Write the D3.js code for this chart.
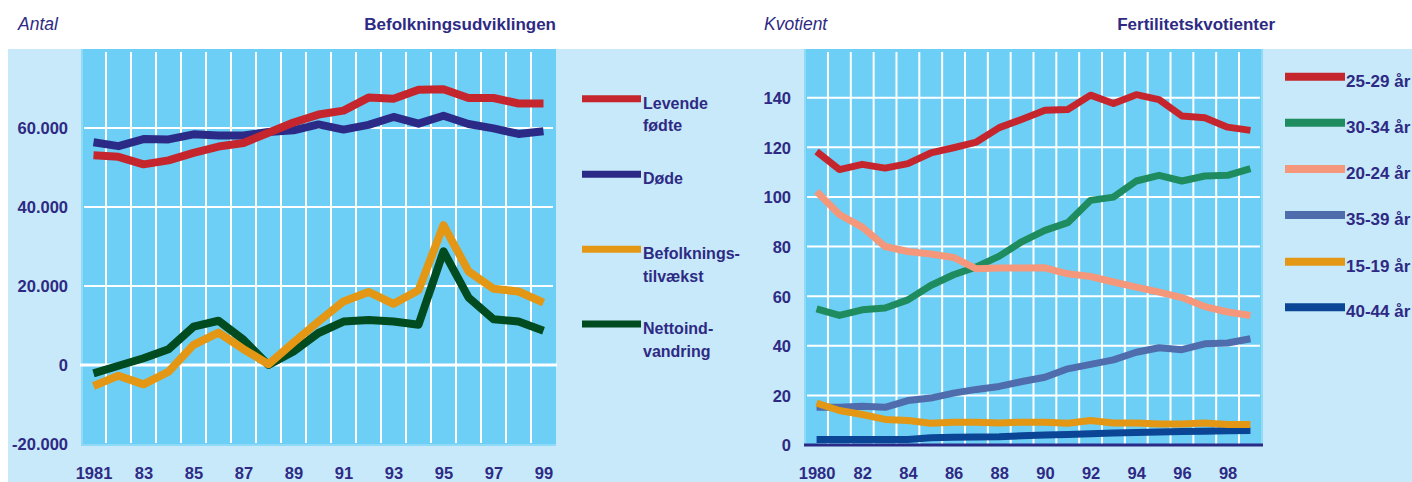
<!DOCTYPE html>
<html>
<head>
<meta charset="utf-8">
<script src="https://cdn.jsdelivr.net/npm/d3@7"></script>
<style>
  html, body { margin: 0; padding: 0; background: #ffffff; }
  svg { display: block; }
  text { font-family: "Liberation Sans", Arial, sans-serif; fill: #2e2a84; }
</style>
</head>
<body>
<svg id="chart" width="1412" height="482"></svg>
<script>
// ---------- DATA ----------
const yearsLeft = [1981,1982,1983,1984,1985,1986,1987,1988,1989,1990,1991,1992,1993,1994,1995,1996,1997,1998,1999];
const levendeFodte = [53100,52700,50800,51800,53700,55300,56200,58800,61400,63400,64400,67700,67400,69700,69800,67600,67600,66200,66200];
const dode = [56400,55400,57200,57100,58400,58100,58100,59000,59400,60900,59600,60800,62800,61100,63100,61000,59900,58500,59200];
const befolkningstilvaekst = [-5300,-2700,-4900,-1700,5100,8200,4000,200,5700,11000,16100,18500,15500,18900,35400,23700,19300,18600,15800];
const nettoindvandring = [-2100,-200,1700,4000,9700,11200,6400,0,3400,8100,11000,11400,11000,10200,28800,17100,11600,11000,8700];
const leftYTicks = [-20000, 0, 20000, 40000, 60000];
const leftYTickLabels = ["-20.000", "0", "20.000", "40.000", "60.000"];
const leftXTicks = [1981,1983,1985,1987,1989,1991,1993,1995,1997,1999];
const leftXTickLabels = ["1981","83","85","87","89","91","93","95","97","99"];

const yearsRight = [1980,1981,1982,1983,1984,1985,1986,1987,1988,1989,1990,1991,1992,1993,1994,1995,1996,1997,1998,1999];
const age2529 = [118.3,111.0,113.1,111.6,113.4,117.7,119.8,122.1,127.9,131.3,134.9,135.2,141.0,137.6,141.2,139.2,132.6,131.9,128.1,126.8];
const age3034 = [54.9,52.2,54.5,55.2,58.5,64.3,68.6,71.8,76.1,82.0,86.5,89.6,98.6,99.9,106.4,108.7,106.4,108.4,108.7,111.4];
const age2024 = [102.2,92.9,87.8,80.0,78.0,77.0,75.6,71.0,71.3,71.3,71.4,69.0,67.9,65.7,63.6,61.6,59.4,55.8,53.6,52.2];
const age3539 = [15.2,15.2,15.6,15.2,17.9,18.9,20.9,22.4,23.6,25.6,27.3,30.7,32.5,34.3,37.4,39.2,38.4,40.8,41.1,42.8];
const age1519 = [16.9,13.9,12.3,10.3,9.9,8.8,9.2,9.2,8.9,9.2,9.2,8.8,9.9,8.9,8.9,8.5,8.5,8.9,8.3,8.3];
const age4044 = [2.2,2.2,2.2,2.2,2.2,2.9,3.1,3.2,3.3,3.7,4.0,4.2,4.5,4.8,5.0,5.2,5.4,5.5,5.7,5.8];
const rightYTicks = [0,20,40,60,80,100,120,140];
const rightXTicks = [1980,1982,1984,1986,1988,1990,1992,1994,1996,1998];
const rightXTickLabels = ["1980","82","84","86","88","90","92","94","96","98"];

const leftSeries = [
  { name: ["Levende", "fødte"], values: levendeFodte, color: "#c5262e" },
  { name: ["Døde"], values: dode, color: "#2b2a86" },
  { name: ["Befolknings-", "tilvækst"], values: befolkningstilvaekst, color: "#e39714" },
  { name: ["Nettoind-", "vandring"], values: nettoindvandring, color: "#004b1f" }
];
const leftDrawOrder = [1, 0, 3, 2];
const rightSeries = [
  { name: "25-29 år", values: age2529, color: "#c5262e" },
  { name: "30-34 år", values: age3034, color: "#1f8c5f" },
  { name: "20-24 år", values: age2024, color: "#f5977a" },
  { name: "35-39 år", values: age3539, color: "#4f6cac" },
  { name: "15-19 år", values: age1519, color: "#e39714" },
  { name: "40-44 år", values: age4044, color: "#0b4696" }
];
const rightDrawOrder = [5, 3, 4, 1, 2, 0];

// ---------- STYLE ----------
const PANEL = "#c7e9f9", PLOT = "#6dcff5", EDGE = "#8fdbf7", NAVY = "#2e2a84";

const svg = d3.select("#chart");
svg.append("rect").attr("x", 8).attr("y", 49).attr("width", 1404).attr("height", 433).attr("fill", PANEL);

// ================= LEFT CHART =================
const L = { left: 81, right: 556, top: 49, bottom: 444 };
const xL = d3.scaleLinear().domain([1980.5, 1999.5]).range([L.left, L.right]);
const yL = d3.scaleLinear().domain([-20000, 80000]).range([L.bottom, L.top]);

const gL = svg.append("g");
gL.append("rect").attr("x", L.left).attr("y", L.top).attr("width", L.right - L.left).attr("height", L.bottom - L.top)
  .attr("fill", PLOT);
gL.append("line").attr("x1", L.left + 1).attr("x2", L.left + 1).attr("y1", L.top).attr("y2", L.bottom + 1)
  .attr("stroke", EDGE).attr("stroke-width", 2);
gL.append("line").attr("x1", L.left).attr("x2", L.right).attr("y1", L.bottom + 1).attr("y2", L.bottom + 1)
  .attr("stroke", EDGE).attr("stroke-width", 2);

// vertical grid at band boundaries
gL.selectAll(".vg").data(yearsLeft.slice(0, -1)).join("line")
  .attr("x1", d => xL(d + 0.5)).attr("x2", d => xL(d + 0.5))
  .attr("y1", L.top + 3).attr("y2", L.bottom - 1)
  .attr("stroke", "#ffffff").attr("stroke-width", 2);
// horizontal grid
gL.selectAll(".hg").data(leftYTicks.filter(d => d > -20000)).join("line")
  .attr("x1", d => d === 0 ? L.left - 1 : L.left + 3).attr("x2", d => d === 0 ? L.right + 1 : L.right - 3)
  .attr("y1", d => yL(d)).attr("y2", d => yL(d))
  .attr("stroke", "#ffffff").attr("stroke-width", d => d === 0 ? 3 : 2);

// axes labels
const yAxisL = d3.axisLeft(yL).tickValues(leftYTicks).tickFormat((d, i) => leftYTickLabels[i]).tickSize(0).tickPadding(0);
const yaL = svg.append("g").attr("transform", `translate(68,0)`).call(yAxisL);
yaL.select(".domain").remove();
yaL.selectAll("text").attr("font-size", 16.5).attr("font-weight", "bold").attr("fill", NAVY)
  .attr("font-family", "Liberation Sans, Arial, sans-serif").attr("dy", "0.36em");

const xAxisL = d3.axisBottom(xL).tickValues(leftXTicks).tickFormat((d, i) => leftXTickLabels[i]).tickSize(0).tickPadding(0);
const xaL = svg.append("g").attr("transform", `translate(0,467)`).call(xAxisL);
xaL.select(".domain").remove();
xaL.selectAll("text").attr("font-size", 16.5).attr("font-weight", "bold").attr("fill", NAVY)
  .attr("font-family", "Liberation Sans, Arial, sans-serif").attr("dy", "0.72em");

// lines
const lineL = d3.line().x((d, i) => xL(yearsLeft[i])).y(d => yL(d));
leftDrawOrder.forEach(k => {
  const s = leftSeries[k];
  gL.append("path").attr("d", lineL(s.values)).attr("fill", "none")
    .attr("stroke", s.color).attr("stroke-width", 8).attr("stroke-linejoin", "round");
});

// legend left
const legYL = [98.7, 174.3, 249.3, 324];
leftSeries.forEach((s, i) => {
  const g = svg.append("g");
  g.append("line").attr("x1", 582).attr("x2", 641).attr("y1", legYL[i]).attr("y2", legYL[i])
    .attr("stroke", s.color).attr("stroke-width", 7);
  s.name.forEach((t, j) => {
    g.append("text").attr("x", 643).attr("y", legYL[i] + 10 + j * 22.5)
      .attr("font-size", 16).attr("font-weight", "bold").text(t);
  });
});

// titles left
svg.append("text").attr("x", 18).attr("y", 30).attr("font-size", 17.5).attr("font-style", "italic").text("Antal");
svg.append("text").attr("x", 556).attr("y", 30).attr("text-anchor", "end").attr("font-size", 17)
  .attr("font-weight", "bold").text("Befolkningsudviklingen");

// ================= RIGHT CHART =================
const R = { left: 804, right: 1263, top: 49, bottom: 445 };
const xR = d3.scaleLinear().domain([1979.45, 1999.55]).range([R.left, R.right]);
const yR = d3.scaleLinear().domain([0, 160]).range([445, 48]);

const gR = svg.append("g");
gR.append("rect").attr("x", R.left).attr("y", R.top).attr("width", R.right - R.left).attr("height", R.bottom - R.top)
  .attr("fill", PLOT);
gR.append("line").attr("x1", R.left + 1).attr("x2", R.left + 1).attr("y1", R.top).attr("y2", R.bottom)
  .attr("stroke", EDGE).attr("stroke-width", 2);
gR.append("line").attr("x1", R.right - 1).attr("x2", R.right - 1).attr("y1", R.top).attr("y2", R.bottom)
  .attr("stroke", EDGE).attr("stroke-width", 2);

gR.selectAll(".vg").data(yearsRight.slice(0, -1)).join("line")
  .attr("x1", d => xR(d + 0.5)).attr("x2", d => xR(d + 0.5))
  .attr("y1", R.top + 3).attr("y2", R.bottom - 1)
  .attr("stroke", "#ffffff").attr("stroke-width", 2);
gR.selectAll(".hg").data(rightYTicks.filter(d => d > 0)).join("line")
  .attr("x1", R.left + 3).attr("x2", R.right - 3)
  .attr("y1", d => yR(d)).attr("y2", d => yR(d))
  .attr("stroke", "#ffffff").attr("stroke-width", 2);

const yAxisR = d3.axisLeft(yR).tickValues(rightYTicks).tickSize(0).tickPadding(0);
const yaR = svg.append("g").attr("transform", `translate(791,0)`).call(yAxisR);
yaR.select(".domain").remove();
yaR.selectAll("text").attr("font-size", 16.5).attr("font-weight", "bold").attr("fill", NAVY)
  .attr("font-family", "Liberation Sans, Arial, sans-serif").attr("dy", "0.36em");

const xAxisR = d3.axisBottom(xR).tickValues(rightXTicks).tickFormat((d, i) => rightXTickLabels[i]).tickSize(0).tickPadding(0);
const xaR = svg.append("g").attr("transform", `translate(0,467)`).call(xAxisR);
xaR.select(".domain").remove();
xaR.selectAll("text").attr("font-size", 16.5).attr("font-weight", "bold").attr("fill", NAVY)
  .attr("font-family", "Liberation Sans, Arial, sans-serif").attr("dy", "0.72em");

const lineR = d3.line().x((d, i) => xR(yearsRight[i])).y(d => yR(d));
rightDrawOrder.forEach(k => {
  const s = rightSeries[k];
  gR.append("path").attr("d", lineR(s.values)).attr("fill", "none")
    .attr("stroke", s.color).attr("stroke-width", 7).attr("stroke-linejoin", "round");
});

// bottom axis line
gR.append("line").attr("x1", R.left).attr("x2", R.right).attr("y1", yR(0)).attr("y2", yR(0))
  .attr("stroke", "#2b2a86").attr("stroke-width", 3);

// legend right
const legYR = [76.7, 122.7, 169, 215, 261.7, 307.3];
rightSeries.forEach((s, i) => {
  const g = svg.append("g");
  g.append("line").attr("x1", 1285).attr("x2", 1345).attr("y1", legYR[i]).attr("y2", legYR[i])
    .attr("stroke", s.color).attr("stroke-width", 8);
  g.append("text").attr("x", 1346).attr("y", legYR[i] + 10)
    .attr("font-size", 17).attr("font-weight", "bold").text(s.name);
});

svg.append("text").attr("x", 764).attr("y", 30).attr("font-size", 17.5).attr("font-style", "italic").text("Kvotient");
svg.append("text").attr("x", 1275).attr("y", 30).attr("text-anchor", "end").attr("font-size", 17)
  .attr("font-weight", "bold").text("Fertilitetskvotienter");
</script>
</body>
</html>
